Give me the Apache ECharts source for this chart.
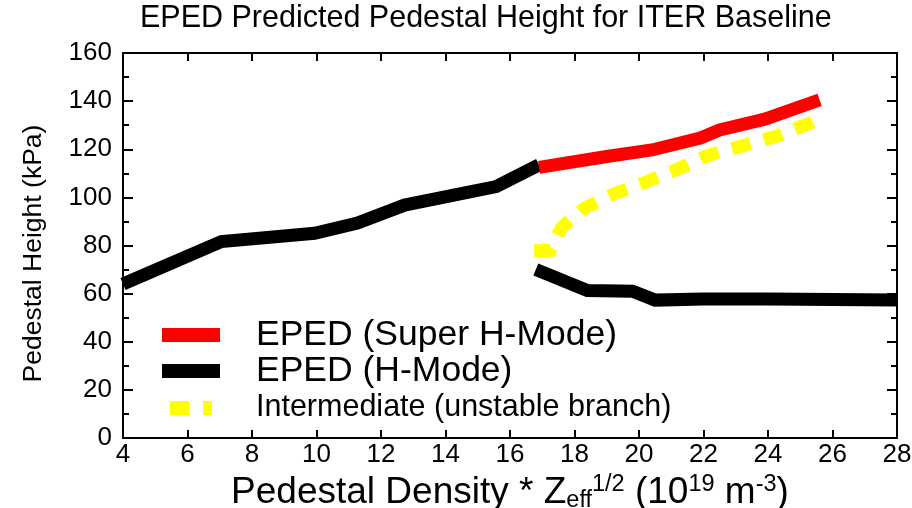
<!DOCTYPE html>
<html>
<head>
<meta charset="utf-8">
<script src="https://cdn.jsdelivr.net/npm/echarts@6/dist/echarts.min.js"></script>
<style>html,body{margin:0;padding:0;background:#fff;}#c{width:912px;height:508px;}</style>
</head>
<body>
<div id="c"></div>
<script>
// ---- data ----
const superX = [16.9, 19.0, 20.4, 21.9, 22.5, 23.9, 25.6];
const superY = [112.5, 117.0, 119.7, 124.7, 128.0, 132.5, 140.5];

const hUpperX = [4.0, 7.05, 9.94, 11.27, 12.73, 15.57, 16.9];
const hUpperY = [64.0, 81.6, 85.1, 89.3, 96.8, 104.5, 113.5];

const hLowerX = [16.8, 18.4, 19.8, 20.5, 22.0, 24.0, 26.0, 28.0];
const hLowerY = [70.0, 61.3, 61.0, 57.3, 57.8, 57.8, 57.6, 57.3];

const interX = [16.75, 17.25, 17.6, 18.3, 19.2, 20.2, 21.2, 22.1, 23.2, 24.2, 25.3, 25.6];
const interY = [77.7, 78.0, 87.5, 95.5, 101.3, 106.3, 111.7, 117.3, 121.4, 125.2, 130.8, 132.8];

const seriesNames = ['EPED (Super H-Mode)', 'EPED (H-Mode)', 'Intermediate (unstable branch)'];
const titleText = 'EPED Predicted Pedestal Height for ITER Baseline';
const yName = 'Pedestal Height (kPa)';

function pairs(xs, ys) { return xs.map((x, i) => [x, ys[i]]); }

const FONT = 'Liberation Sans';
const chart = echarts.init(document.getElementById('c'), null, {renderer: 'canvas'});

const axisCommon = {
  axisLine: {show: true, onZero: false, lineStyle: {color: '#000', width: 2}},
  splitLine: {show: false}
};

function legendItem(name, top, icon, fontSize, lineHeight) {
  return {
    show: true, orient: 'vertical', left: 162, top: top, padding: 0,
    itemWidth: 58, itemHeight: 14, symbolKeepAspect: false,
    selectedMode: false,
    data: [{name: name, icon: icon}],
    itemStyle: {borderWidth: 0},
    textStyle: {fontFamily: FONT, fontSize: fontSize, lineHeight: lineHeight, color: '#000', padding: [0, 0, 0, 31]}
  };
}

const option = {
  backgroundColor: '#fff',
  animation: false,
  title: {
    text: titleText, left: 140, top: 3, padding: 0,
    textStyle: {fontFamily: FONT, fontSize: 30.5, fontWeight: 'normal', color: '#000', lineHeight: 32}
  },
  legend: [
    legendItem(seriesNames[0], 317, 'rect', 35.5, 36),
    legendItem(seriesNames[1], 353, 'rect', 35.5, 36),
    legendItem(seriesNames[2], 392,
      'path://M0,0L0.001,0Z M8,0H27V14H8Z M41,0H50V14H41Z M58,14L57.999,14Z', 30.5, 32)
  ],
  grid: {left: 123, right: 15, top: 53, bottom: 70, containLabel: false, outerBoundsMode: 'none'},
  xAxis: [
    Object.assign({}, axisCommon, {
      type: 'value', min: 4, max: 28, interval: 2, position: 'bottom',
      axisTick: {show: true, inside: true, length: 8, lineStyle: {color: '#000', width: 2}},
      axisLabel: {show: true, margin: 4, fontFamily: FONT, fontSize: 26, color: '#000'},
      name: '{a|Pedestal Density * Z}{sub|eff}{sup|1/2}{a| (10}{sup|19}{a| m}{sup|-3}{a|)}',
      nameLocation: 'middle', nameGap: 34,
      nameTextStyle: {
        fontFamily: FONT, color: '#000',
        rich: {
          a: {fontFamily: FONT, fontSize: 37, lineHeight: 40, color: '#000'},
          sub: {fontFamily: FONT, fontSize: 23.5, lineHeight: 23, verticalAlign: 'bottom', color: '#000'},
          sup: {fontFamily: FONT, fontSize: 23.5, lineHeight: 23, verticalAlign: 'top', color: '#000'}
        }
      }
    }),
    Object.assign({}, axisCommon, {
      type: 'value', min: 4, max: 28, interval: 2, position: 'top',
      axisTick: {show: true, inside: true, length: 8, lineStyle: {color: '#000', width: 2}},
      axisLabel: {show: false}
    })
  ],
  yAxis: [
    Object.assign({}, axisCommon, {
      type: 'value', min: 0, max: 160, interval: 20, position: 'left',
      axisTick: {show: true, inside: true, length: 10, lineStyle: {color: '#000', width: 2}},
      minorTick: {show: true, splitNumber: 2, length: 6, lineStyle: {color: '#000', width: 2}},
      axisLabel: {show: true, margin: 11, fontFamily: FONT, fontSize: 26, color: '#000'},
      name: yName, nameLocation: 'middle', nameRotate: 90, nameGap: 76,
      nameTextStyle: {fontFamily: FONT, fontSize: 26.5, color: '#000', padding: [0, 16, 0, 0]}
    }),
    Object.assign({}, axisCommon, {
      type: 'value', min: 0, max: 160, interval: 20, position: 'right',
      axisTick: {show: true, inside: true, length: 10, lineStyle: {color: '#000', width: 2}},
      minorTick: {show: true, splitNumber: 2, length: 6, lineStyle: {color: '#000', width: 2}},
      axisLabel: {show: false}
    })
  ],
  series: [
    {
      name: seriesNames[2], type: 'line', data: pairs(interX, interY),
      showSymbol: false, symbol: 'none', z: 2,
      itemStyle: {color: '#ffff00'},
      lineStyle: {color: '#ffff00', width: 13, type: [19, 14], cap: 'butt', join: 'miter'}
    },
    {
      name: seriesNames[1], type: 'line', data: pairs(hUpperX, hUpperY),
      showSymbol: false, symbol: 'none', z: 3,
      itemStyle: {color: '#000'},
      lineStyle: {color: '#000', width: 13, cap: 'butt', join: 'miter'}
    },
    {
      name: seriesNames[1], type: 'line', data: pairs(hLowerX, hLowerY),
      showSymbol: false, symbol: 'none', z: 3,
      itemStyle: {color: '#000'},
      lineStyle: {color: '#000', width: 13, cap: 'butt', join: 'miter'}
    },
    {
      name: seriesNames[0], type: 'line', data: pairs(superX, superY),
      showSymbol: false, symbol: 'none', z: 4,
      itemStyle: {color: '#ff0000'},
      lineStyle: {color: '#ff0000', width: 13, cap: 'butt', join: 'miter'}
    }
  ]
};
chart.setOption(option);
</script>
</body>
</html>
